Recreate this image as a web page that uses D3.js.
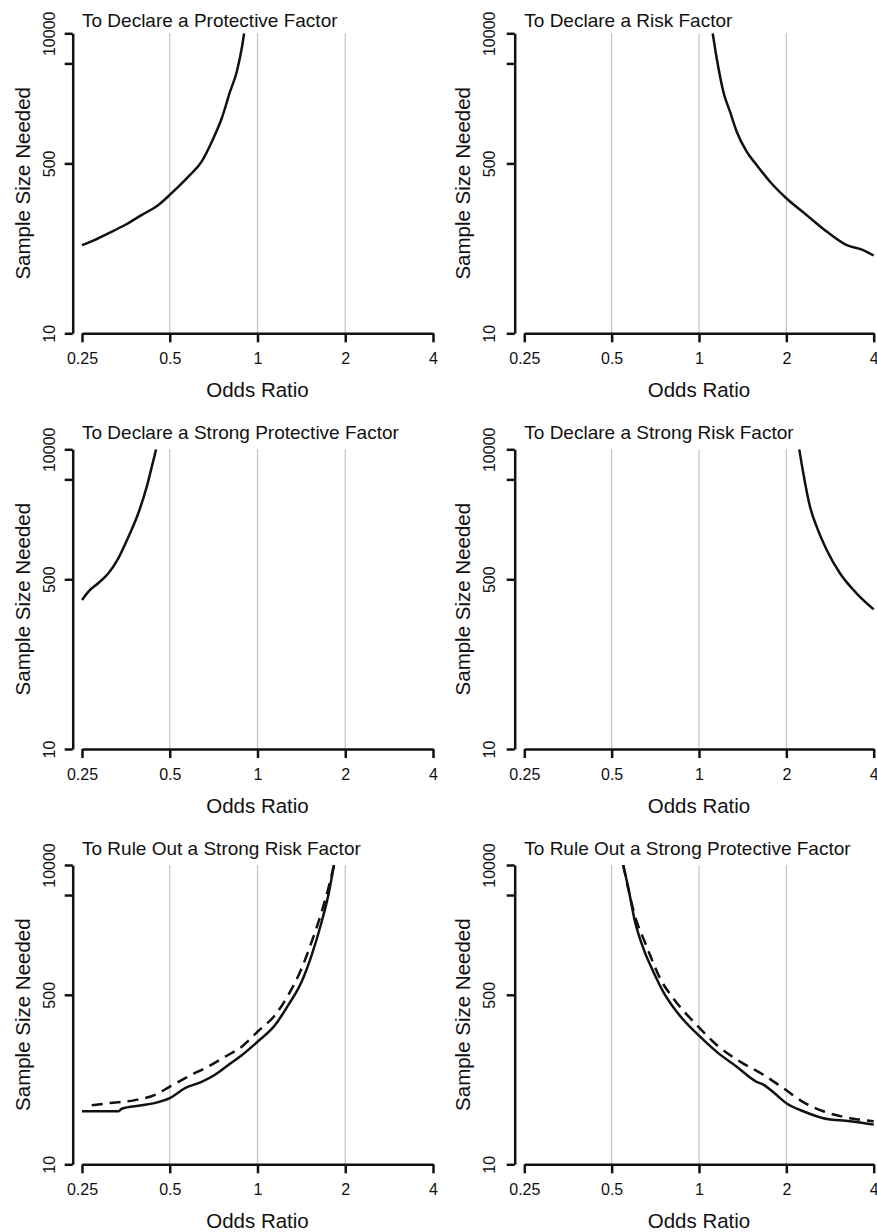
<!DOCTYPE html>
<html>
<head>
<meta charset="utf-8">
<script src="https://cdn.jsdelivr.net/npm/d3@7"></script>
<style>
  body { margin: 0; background: #fff; }
  svg { display: block; font-family: "Liberation Sans", Arial, sans-serif; }
</style>
</head>
<body>
<svg id="chart" width="877" height="1232"></svg>
<script>
// axis ticks shared by all six panels
const orTicks = [0.25, 0.5, 1, 2, 4]
const orTickLabels = ["0.25", "0.5", "1", "2", "4"]
const nTicks = [10, 500, 5000, 10000]
const nTickLabels = ["10", "500", "", "10000"]
const gridOR = [0.5, 1, 2]

const titles = [
    "To Declare a Protective Factor",
    "To Declare a Risk Factor",
    "To Declare a Strong Protective Factor",
    "To Declare a Strong Risk Factor",
    "To Rule Out a Strong Risk Factor",
    "To Rule Out a Strong Protective Factor"
]

// series (odds ratio, sample size)
const protOR = [0.25, 0.277, 0.308, 0.351, 0.40, 0.457, 0.5, 0.579, 0.643, 0.697, 0.754, 0.805, 0.849, 0.883, 0.90]
const protN = [76, 86, 100, 121, 152, 192, 242, 368, 520, 824, 1413, 2606, 4130, 7080, 10000]

const riskOR = [1.115, 1.151, 1.213, 1.279, 1.349, 1.46, 1.58, 1.757, 2.0, 2.35, 2.755, 3.23, 3.68, 4.0]
const riskN = [10000, 5620, 2606, 1644, 1037, 655, 482, 328, 224, 152, 104, 76, 68, 60]

const strongProtOR = [0.25, 0.263, 0.284, 0.308, 0.333, 0.361, 0.39, 0.417, 0.434, 0.449]
const strongProtN = [310, 376, 456, 574, 811, 1334, 2290, 4230, 6700, 10000]

const strongRiskOR = [2.216, 2.288, 2.413, 2.544, 2.755, 3.06, 3.49, 4.0]
const strongRiskN = [10000, 5750, 2660, 1680, 982, 574, 362, 250]

const outRiskOR = [0.25, 0.333, 0.342, 0.40, 0.457, 0.5, 0.564, 0.643, 0.715, 0.794, 0.883, 1.0, 1.149, 1.275, 1.417, 1.534, 1.66, 1.75, 1.83]
const outRiskN = [34, 34, 36, 39, 42, 46, 58, 67, 79, 99, 124, 169, 249, 394, 676, 1250, 2700, 4990, 10000]
const outRiskOR2 = [0.27, 0.308, 0.38, 0.447, 0.5, 0.579, 0.675, 0.775, 0.883, 1.0, 1.149, 1.275, 1.417, 1.534, 1.66, 1.75, 1.83]
const outRiskN2 = [39, 41, 44, 50, 60, 76, 95, 120, 151, 213, 313, 497, 920, 1700, 3400, 5830, 10000]

const outProtOR = [0.548, 0.571, 0.602, 0.643, 0.696, 0.753, 0.838, 1.008, 1.151, 1.349, 1.58, 1.666, 1.80, 2.0, 2.288, 2.68, 3.31, 4.0]
const outProtN = [10000, 5830, 2700, 1460, 851, 536, 338, 190, 134, 95, 67, 63, 53, 41, 34, 29, 27, 25]
const outProtOR2 = [0.548, 0.61, 0.643, 0.678, 0.734, 0.816, 0.982, 1.151, 1.385, 1.666, 1.95, 2.288, 2.68, 3.31, 4.0]
const outProtN2 = [10000, 2700, 1840, 1253, 731, 460, 249, 157, 107, 79, 58, 42, 34, 29, 27]

const zip = (xs, ys) => xs.map((v, i) => ({ or: v, n: ys[i] }))

// panel table: row, column and the lines in it
const panels = [
    { row: 0, col: 0, lines: [{ pts: zip(protOR, protN) }] },
    { row: 0, col: 1, lines: [{ pts: zip(riskOR, riskN) }] },
    { row: 1, col: 0, lines: [{ pts: zip(strongProtOR, strongProtN) }] },
    { row: 1, col: 1, lines: [{ pts: zip(strongRiskOR, strongRiskN) }] },
    { row: 2, col: 0, lines: [{ pts: zip(outRiskOR2, outRiskN2), dash: true }, { pts: zip(outRiskOR, outRiskN) }] },
    { row: 2, col: 1, lines: [{ pts: zip(outProtOR2, outProtN2), dash: true }, { pts: zip(outProtOR, outProtN) }] }
]

// layout of the grid
const rowTop = [33.3, 449.3, 865]
const rowBot = [333.3, 749, 1164.3]
const rowTitle = [26.5, 439.3, 855]
const colAxis = [72.7, 514.7]
const colLeft = [82, 524.3]
const colRight = [433, 873.7]
const colTickLab = [-17.7, -19.4]
const colYLab = [-43.2, -45]

const svg = d3.select("#chart")
const ink = "#111"

panels.forEach((p, k) => {
    const top = rowTop[p.row], bot = rowBot[p.row]
    const ax = colAxis[p.col]

    const x = d3.scaleLog().base(2).domain([0.25, 4]).range([colLeft[p.col], colRight[p.col]])
    const y = d3.scaleLog().domain([10, 10000]).range([bot, top])

    const g = svg.append("g")

    // grey reference lines
    g.selectAll(".grid")
        .data(gridOR)
        .join("line")
        .attr("x1", d => x(d)).attr("x2", d => x(d))
        .attr("y1", top).attr("y2", bot)
        .attr("stroke", "#c4c4c4")
        .attr("stroke-width", 1.2)

    // clip the curves to the plot box
    const clipId = "clip" + k
    svg.append("clipPath").attr("id", clipId)
        .append("rect")
        .attr("x", ax).attr("y", top)
        .attr("width", colRight[p.col] + 4 - ax)
        .attr("height", bot - top)

    const line = d3.line()
        .x(d => x(d.or))
        .y(d => y(d.n))
        .curve(d3.curveMonotoneX)

    g.append("g")
        .attr("clip-path", `url(#${clipId})`)
        .selectAll("path")
        .data(p.lines)
        .join("path")
        .attr("d", d => line(d.pts))
        .attr("fill", "none")
        .attr("stroke", ink)
        .attr("stroke-width", 2.5)
        .attr("stroke-linejoin", "round")
        .attr("stroke-dasharray", d => d.dash ? "11,7" : null)

    // x axis
    g.append("g")
        .attr("transform", `translate(0,${bot})`)
        .call(d3.axisBottom(x)
            .tickValues(orTicks)
            .tickFormat((d, i) => orTickLabels[i])
            .tickSize(9)
            .tickSizeOuter(0))
        .call(a => a.select(".domain").attr("stroke", ink).attr("stroke-width", 2.5))
        .call(a => a.selectAll(".tick line").attr("stroke", ink).attr("stroke-width", 2.5))
        .call(a => a.selectAll(".tick text")
            .attr("y", 31).attr("dy", null)
            .attr("fill", ink)
            .style("font-size", "16px")
            .style("font-family", "Liberation Sans, Arial, sans-serif"))

    // y axis with rotated labels
    g.append("g")
        .attr("transform", `translate(${ax},0)`)
        .call(d3.axisLeft(y)
            .tickValues(nTicks)
            .tickFormat((d, i) => nTickLabels[i])
            .tickSize(8)
            .tickSizeOuter(0))
        .call(a => a.select(".domain").attr("stroke", ink).attr("stroke-width", 2.5))
        .call(a => a.selectAll(".tick line").attr("stroke", ink).attr("stroke-width", 2.5))
        .call(a => a.selectAll(".tick text")
            .attr("x", 0).attr("y", colTickLab[p.col]).attr("dy", null)
            .attr("transform", "rotate(-90)")
            .attr("text-anchor", "middle")
            .attr("fill", ink)
            .style("font-size", "16px")
            .style("font-family", "Liberation Sans, Arial, sans-serif"))

    // axis titles
    g.append("text")
        .attr("x", (colLeft[p.col] + colRight[p.col]) / 2)
        .attr("y", bot + 64)
        .attr("text-anchor", "middle")
        .attr("fill", ink)
        .style("font-size", "20.5px")
        .text("Odds Ratio")

    g.append("text")
        .attr("transform", `translate(${ax + colYLab[p.col]},${(top + bot) / 2}) rotate(-90)`)
        .attr("text-anchor", "middle")
        .attr("fill", ink)
        .style("font-size", "20.5px")
        .text("Sample Size Needed")

    // panel title, left aligned with the first tick
    g.append("text")
        .attr("x", colLeft[p.col])
        .attr("y", rowTitle[p.row])
        .attr("fill", ink)
        .style("font-size", "19px")
        .text(titles[k])
})
</script>
</body>
</html>
